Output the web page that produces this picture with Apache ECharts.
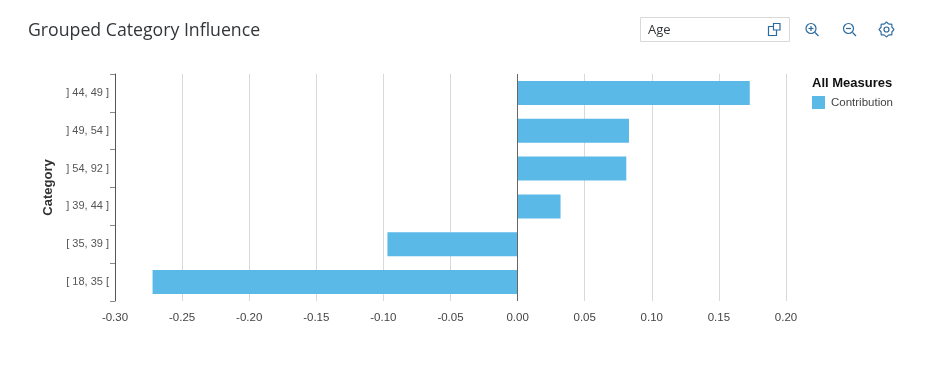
<!DOCTYPE html>
<html>
<head>
<meta charset="utf-8">
<style>
  html, body { margin: 0; padding: 0; background: #fff; }
  #chart { width: 940px; height: 365px; }
</style>
<script src="https://cdn.jsdelivr.net/npm/echarts@6/dist/echarts.min.js"></script>
</head>
<body>
<div id="chart"></div>
<script>
const categories = ['] 44, 49 ]', '] 49, 54 ]', '] 54, 92 ]', '] 39, 44 ]', '[ 35, 39 ]', '[ 18, 35 ['];
const contribution = [0.173, 0.083, 0.081, 0.032, -0.097, -0.272];
const xTicks = { min: -0.3, max: 0.2, interval: 0.05 };

const chart = echarts.init(document.getElementById('chart'), null, { renderer: 'canvas' });
const sans = '"Liberation Sans", Arial, sans-serif';
const iconColor = '#2b6a9e';

// toolbar icons, drawn as outlines
const iconStyle = { stroke: iconColor, fill: 'none', lineWidth: 1.2 };

// cog outline for the settings icon
const cogPoints = [];
for (let i = 0; i < 16; i++) {
  const a = (i * Math.PI) / 8;
  const r = i % 2 === 0 ? 7.4 : 5.9;
  cogPoints.push([886.5 + r * Math.sin(a), 29.5 - r * Math.cos(a)]);
}

chart.setOption({
  backgroundColor: '#fff',
  animation: false,
  title: {
    text: 'Grouped Category Influence',
    left: 28,
    top: 22,
    padding: 0,
    textStyle: { fontFamily: '"Open Sans", sans-serif', fontSize: 17.7, fontWeight: 400, color: '#32363a' },
  },
  legend: {
    left: 812,
    top: 96,
    padding: 0,
    icon: 'rect',
    itemWidth: 13,
    itemHeight: 13,
    itemGap: 6,
    selectedMode: false,
    data: ['Contribution'],
    textStyle: { fontFamily: sans, fontSize: 11.5, color: '#444', padding: [0, 0, 0, 1] },
  },
  grid: { left: 115, right: 154, top: 74, bottom: 64 },
  xAxis: {
    type: 'value',
    min: xTicks.min,
    max: xTicks.max,
    interval: xTicks.interval,
    axisLine: { show: false },
    axisTick: { show: false },
    axisLabel: {
      color: '#444',
      fontFamily: sans,
      fontSize: 11.5,
      margin: 11,
      formatter: (v) => v.toFixed(2),
    },
    splitLine: { lineStyle: { color: '#d9d9d9', width: 1 } },
  },
  yAxis: {
    type: 'category',
    inverse: true,
    data: categories,
    name: 'Category',
    nameLocation: 'middle',
    nameGap: 57,
    nameTextStyle: { fontFamily: sans, fontSize: 13, fontWeight: 'bold', color: '#333' },
    axisLine: { show: true, onZero: false, lineStyle: { color: '#555', width: 1 } },
    axisTick: { show: true, length: 5, lineStyle: { color: '#888' } },
    axisLabel: { color: '#555', fontFamily: sans, fontSize: 11, margin: 6, padding: [2, 0, 0, 0] },
    splitLine: { show: false },
  },
  series: [
    {
      name: 'Contribution',
      type: 'bar',
      data: contribution,
      barWidth: 24,
      itemStyle: { color: '#5bb9e8' },
      markLine: {
        silent: true,
        symbol: 'none',
        label: { show: false },
        lineStyle: { color: '#666', width: 1, type: 'solid' },
        data: [{ xAxis: 0 }],
      },
    },
  ],
  graphic: [
    { type: 'text', left: 812, top: 77, style: { text: 'All Measures', fontFamily: sans, fontSize: 13, fontWeight: 'bold', fill: '#111' } },
    // Age selector box
    { type: 'rect', shape: { x: 640.5, y: 17.5, width: 149, height: 24 }, style: { fill: '#fff', stroke: '#d9d9d9', lineWidth: 1 } },
    { type: 'text', left: 648, top: 24, style: { text: 'Age', fontFamily: '"Open Sans", sans-serif', fontSize: 13, fill: '#32363a' } },
    { type: 'rect', shape: { x: 768.5, y: 26.5, width: 8, height: 9 }, style: iconStyle },
    { type: 'rect', shape: { x: 773.5, y: 23.5, width: 6.5, height: 6.5 }, style: { stroke: iconColor, fill: '#fff', lineWidth: 1.2 } },
    // zoom in
    { type: 'circle', shape: { cx: 811, cy: 28.5, r: 5 }, style: iconStyle },
    { type: 'line', shape: { x1: 815, y1: 32.5, x2: 818.5, y2: 36 }, style: iconStyle },
    { type: 'line', shape: { x1: 808.5, y1: 28.5, x2: 813.5, y2: 28.5 }, style: iconStyle },
    { type: 'line', shape: { x1: 811, y1: 26, x2: 811, y2: 31 }, style: iconStyle },
    // zoom out
    { type: 'circle', shape: { cx: 848.5, cy: 28.5, r: 5 }, style: iconStyle },
    { type: 'line', shape: { x1: 852.5, y1: 32.5, x2: 856, y2: 36 }, style: iconStyle },
    { type: 'line', shape: { x1: 846, y1: 28.5, x2: 851, y2: 28.5 }, style: iconStyle },
    // settings
    { type: 'polygon', shape: { points: cogPoints, smooth: 0.3 }, style: iconStyle },
    { type: 'circle', shape: { cx: 886.5, cy: 29.5, r: 2.5 }, style: iconStyle },
  ],
});
</script>
</body>
</html>
